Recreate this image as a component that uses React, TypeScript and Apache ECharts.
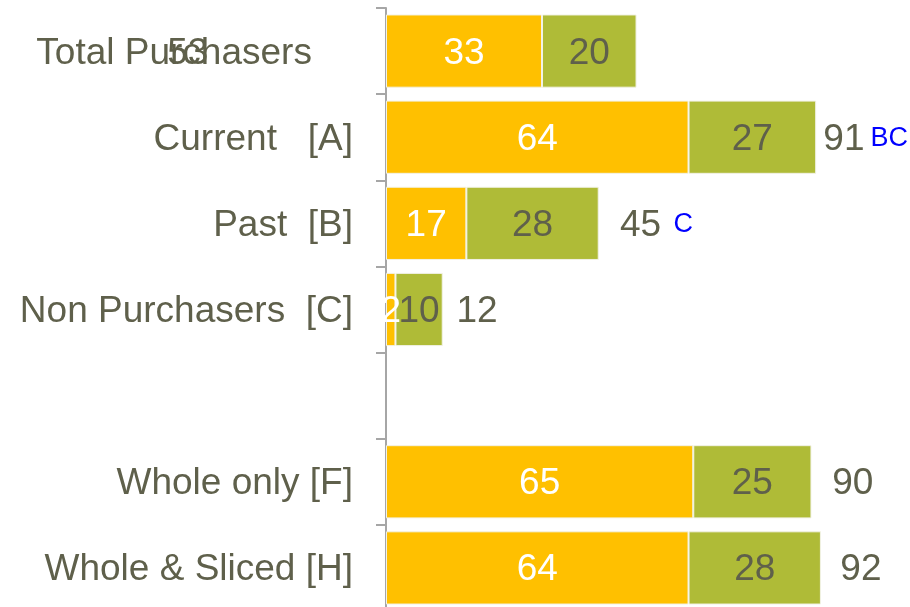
import React, { useEffect, useRef } from "react";
import * as echarts from "echarts";

const categories = [
  "Total Purchasers    ",
  "Current   [A]",
  "Past  [B]",
  "Non Purchasers  [C]",
  "",
  "Whole only [F]",
  "Whole & Sliced [H]",
];
const orangeValues: (number | string)[] = [33, 64, 17, 2, "-", 65, 64];
const greenValues: (number | string)[] = [20, 27, 28, 10, "-", 25, 28];
const totals: (number | null)[] = [53, 91, 45, 12, null, 90, 92];
const sigLetters = ["", "BC", "C", "", "", "", ""];
// left edge of each total / significance label, in axis units
const totalLabelX = [-46.4, 92.4, 49.4, 14.8, null, 94.3, 96.0];
const sigLabelX = [null, 102.4, 60.7, null, null, null, null];

const TEXT = "#5f604b";
const FONT = "'Liberation Sans', Arial, sans-serif";
const FS = 37;

export default function App() {
  const ref = useRef<HTMLDivElement>(null);
  useEffect(() => {
    if (!ref.current) return;
    const chart = echarts.init(ref.current, null, { renderer: "svg" });
    const totalData: any[] = [];
    totals.forEach((t, i) => {
      if (t === null || totalLabelX[i] === null) return;
      totalData.push({ value: [totalLabelX[i], i], txt: String(t) });
    });
    const sigData: any[] = [];
    sigLetters.forEach((s, i) => {
      if (!s || sigLabelX[i] === null) return;
      sigData.push({ value: [sigLabelX[i], i], txt: s });
    });
    const labelSeries = (data: any[], color: string, size: number) => ({
      type: "scatter",
      clip: false,
      symbolSize: 1,
      itemStyle: { color: "rgba(0,0,0,0)", opacity: 1 },
      data,
      label: {
        show: true,
        position: "right",
        distance: 0,
        formatter: (p: any) => p.data.txt,
        color,
        fontSize: size,
        fontFamily: FONT,
      },
    });
    chart.setOption({
      animation: false,
      textStyle: { fontFamily: FONT },
      grid: { left: 386, top: 8, bottom: 0, right: 4, containLabel: false },
      xAxis: {
        type: "value",
        min: 0,
        max: 110,
        show: false,
        splitLine: { show: false },
      },
      yAxis: {
        type: "category",
        data: categories,
        inverse: true,
        axisLine: { show: true, lineStyle: { color: "#a6a6a6", width: 2 } },
        axisTick: {
          show: true,
          inside: false,
          length: 10,
          interval: 0,
          lineStyle: { color: "#a6a6a6", width: 2 },
        },
        axisLabel: {
          color: TEXT,
          fontSize: FS,
          fontFamily: FONT,
          margin: 33,
          interval: 0,
        },
      },
      series: [
        {
          type: "bar",
          stack: "s",
          data: orangeValues,
          barCategoryGap: "15%",
          itemStyle: { color: "#ffc000", borderColor: "#f2f2e6", borderWidth: 1 },
          label: {
            show: true,
            position: "inside",
            color: "#ffffff",
            fontSize: FS,
            fontFamily: FONT,
          },
        },
        {
          type: "bar",
          stack: "s",
          data: greenValues,
          barCategoryGap: "15%",
          itemStyle: { color: "#afbb37", borderColor: "#f2f2e6", borderWidth: 1 },
          label: {
            show: true,
            position: "inside",
            color: TEXT,
            fontSize: FS,
            fontFamily: FONT,
          },
        },
        labelSeries(totalData, TEXT, FS),
        labelSeries(sigData, "#0000ff", 27),
      ],
    });
    return () => chart.dispose();
  }, []);
  return (
    <div
      style={{
        position: "fixed",
        left: 0,
        top: 0,
        width: 910,
        height: 607,
        overflow: "hidden",
      }}
    >
      <div ref={ref} style={{ width: 910, height: 611 }} />
    </div>
  );
}
